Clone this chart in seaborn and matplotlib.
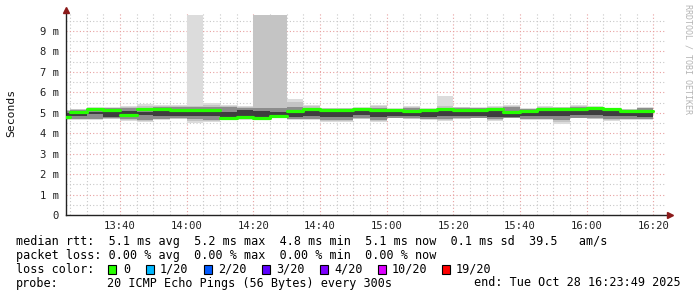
import numpy as np
import pandas as pd
import matplotlib
matplotlib.use("Agg")
import matplotlib.pyplot as plt
import seaborn as sns
from matplotlib.ticker import MultipleLocator, FuncFormatter
from matplotlib.patches import Rectangle

# ---------------- data (ms) ----------------
bin_start = pd.date_range("2025-10-28 13:20", "2025-10-28 16:15", freq="5min")
median = [4.79, 5.02, 5.17, 5.12, 4.89, 5.17, 5.17, 5.14, 5.14, 5.15, 4.73, 4.79,
          4.76, 4.83, 5.09, 5.20, 5.12, 5.12, 5.17, 5.12, 5.14, 5.09, 5.12, 5.17,
          5.14, 5.12, 5.17, 5.05, 5.09, 5.17, 5.17, 5.17, 5.22, 5.19, 5.09, 5.09]
lo0 = [4.65, 4.65, 4.65, 4.70, 4.60, 4.54, 4.65, 4.70, 4.49, 4.55, 4.65, 4.65,
       4.65, 4.73, 4.65, 4.65, 4.57, 4.57, 4.70, 4.57, 4.73, 4.70, 4.65, 4.60,
       4.70, 4.73, 4.60, 4.73, 4.65, 4.65, 4.45, 4.73, 4.70, 4.60, 4.65, 4.65]
hi0 = [5.14, 5.19, 5.28, 5.28, 5.33, 5.41, 5.38, 5.38, 9.80, 5.46, 5.38, 5.33,
       9.80, 9.80, 5.66, 5.38, 5.25, 5.25, 5.28, 5.38, 5.22, 5.33, 5.22, 5.84,
       5.30, 5.28, 5.33, 5.38, 5.22, 5.33, 5.30, 5.38, 5.33, 5.25, 5.19, 5.28]
lo1 = [4.68, 4.68, 4.68, 4.72, 4.64, 4.60, 4.68, 4.72, 4.60, 4.60, 4.68, 4.68,
       4.68, 4.75, 4.68, 4.68, 4.62, 4.62, 4.72, 4.62, 4.75, 4.72, 4.68, 4.64,
       4.72, 4.75, 4.64, 4.75, 4.68, 4.68, 4.55, 4.75, 4.72, 4.64, 4.68, 4.68]
hi1 = [5.12, 5.17, 5.25, 5.25, 5.30, 5.35, 5.33, 5.33, 5.35, 5.40, 5.33, 5.30,
       9.80, 9.80, 5.55, 5.33, 5.23, 5.23, 5.25, 5.33, 5.20, 5.30, 5.20, 5.35,
       5.27, 5.25, 5.30, 5.34, 5.20, 5.30, 5.27, 5.34, 5.30, 5.23, 5.17, 5.25]
lo2 = [4.70, 4.70, 4.72, 4.73, 4.68, 4.65, 4.70, 4.75, 4.70, 4.65, 4.70, 4.70,
       4.70, 4.76, 4.70, 4.72, 4.65, 4.65, 4.75, 4.65, 4.76, 4.75, 4.70, 4.68,
       4.75, 4.76, 4.68, 4.76, 4.70, 4.72, 4.65, 4.76, 4.75, 4.68, 4.70, 4.70]
hi2 = [5.10, 5.14, 5.22, 5.22, 5.25, 5.25, 5.28, 5.28, 5.28, 5.30, 5.28, 5.25,
       5.25, 5.22, 5.28, 5.25, 5.20, 5.20, 5.22, 5.25, 5.17, 5.25, 5.17, 5.25,
       5.22, 5.22, 5.25, 5.30, 5.17, 5.25, 5.22, 5.28, 5.25, 5.20, 5.14, 5.22]
lo3 = [4.80, 4.85, 4.95, 4.78, 4.80, 4.90, 4.82, 4.85, 4.85, 4.85, 4.80, 4.80,
       4.80, 4.80, 4.80, 4.85, 4.80, 4.80, 4.90, 4.80, 4.85, 4.85, 4.78, 4.85,
       4.82, 4.82, 4.78, 4.78, 4.85, 4.85, 4.82, 4.90, 4.88, 4.85, 4.85, 4.78]
hi3 = [5.00, 5.05, 5.05, 5.12, 5.10, 5.05, 5.15, 5.10, 5.20, 5.12, 5.05, 5.12,
       5.10, 5.05, 5.10, 5.15, 5.10, 5.10, 5.15, 5.12, 5.10, 5.12, 5.10, 5.15,
       5.12, 5.10, 5.15, 5.05, 5.10, 5.15, 5.12, 5.15, 5.18, 5.12, 5.08, 5.10]

y_ticks = [0, 1, 2, 3, 4, 5, 6, 7, 8, 9]
y_labels = ["0", "1 m", "2 m", "3 m", "4 m", "5 m", "6 m", "7 m", "8 m", "9 m"]
loss_labels = ["0", "1/20", "2/20", "3/20", "4/20", "10/20", "19/20"]
loss_colors = ["#26ff00", "#00b8ff", "#0059ff", "#5e00ff", "#7e00ff", "#dd00ff", "#ff0000"]
start_time = "13:23:49"
end_time = "16:23:49"

# ---------------- setup ----------------
sns.set_style("white")
plt.rcParams["font.family"] = ["DejaVu Sans Mono", "DejaVu Sans"]

def to_min(ts):
    return ts.hour * 60 + ts.minute + ts.second / 60.0

starts = np.array([to_min(t) for t in bin_start])
edges = np.append(starts, starts[-1] + 5)
x_left = to_min(pd.Timestamp("2025-10-28 " + start_time))
x_right = to_min(pd.Timestamp("2025-10-28 " + end_time))

W, H = 697, 297
fig = plt.figure(figsize=(W / 100, H / 100), dpi=100)
fig.patch.set_facecolor("white")
ax = fig.add_axes([66 / W, 82 / H, 600 / W, 203 / H])
ax.set_facecolor("white")

# smoke
for lo, hi, c in [(lo0, hi0, "#dcdcdc"), (lo1, hi1, "#c4c4c4"),
                  (lo2, hi2, "#8c8c8c"), (lo3, hi3, "#3e3e3e")]:
    ax.fill_between(edges, np.append(lo, lo[-1]), np.append(hi, hi[-1]),
                    step="post", color=c, linewidth=0, zorder=2)

# median segments (per bin)
rows = []
for k in range(len(median)):
    rows.append({"t": edges[k], "v": median[k], "bin": k})
    rows.append({"t": edges[k + 1], "v": median[k], "bin": k})
df = pd.DataFrame(rows)
sns.lineplot(data=df, x="t", y="v", units="bin", estimator=None,
             color="#26ff00", linewidth=2.3, ax=ax, zorder=3)

ax.set_xlim(x_left, x_right)
ax.set_ylim(0, 9.93)
ax.set_xlabel("")
ax.set_ylabel("")

ax.xaxis.set_major_locator(MultipleLocator(20))
ax.xaxis.set_minor_locator(MultipleLocator(5))
ax.xaxis.set_major_formatter(FuncFormatter(lambda v, p: f"{int(v // 60)}:{int(round(v % 60)):02d}"))
ax.set_yticks(y_ticks)
ax.set_yticklabels(y_labels)
ax.yaxis.set_minor_locator(MultipleLocator(0.5))

ax.grid(which="minor", color="#c8c8c8", linestyle=(0, (1, 2)), linewidth=0.8)
ax.grid(which="major", color="#e8a0a0", linestyle=(0, (1, 2)), linewidth=0.8)
ax.set_axisbelow(True)

for s in ["top", "right"]:
    ax.spines[s].set_visible(False)
for s in ["left", "bottom"]:
    ax.spines[s].set_color("#222222")
    ax.spines[s].set_linewidth(1.0)
ax.spines["bottom"].set_bounds(x_left, x_right + 1)

ax.tick_params(axis="both", which="both", direction="in", length=2, width=0.7,
               colors="#555555", labelcolor="#222222", labelsize=7.6)
ax.tick_params(axis="x", which="both", pad=4)
ax.tick_params(axis="y", which="both", pad=5)

# arrows
ax.plot([0], [1.01], marker="^", color="#8b1a1a", markersize=4, transform=ax.transAxes,
        clip_on=False, zorder=5)
ax.plot([1.007], [0], marker=">", color="#8b1a1a", markersize=4, transform=ax.transAxes,
        clip_on=False, zorder=5)

fig.text(11 / W, 1 - 113 / H, "Seconds", rotation=90, ha="center", va="center",
         fontsize=8.2, color="#111111")
fig.text(688 / W, 1 - 4 / H, "RRDTOOL / TOBI OETIKER", rotation=270, ha="center", va="top",
         fontsize=6.0, color="#b4b4b4")

fs = 8.45
tc = "#000000"
fig.text(16 / W, 1 - 241 / H,
         "median rtt:  5.1 ms avg  5.2 ms max  4.8 ms min  5.1 ms now  0.1 ms sd  39.5   am/s",
         ha="left", va="center", fontsize=fs, color=tc)
fig.text(16 / W, 1 - 256 / H,
         "packet loss: 0.00 % avg  0.00 % max  0.00 % min  0.00 % now",
         ha="left", va="center", fontsize=fs, color=tc)
fig.text(16 / W, 1 - 269.5 / H, "loss color:", ha="left", va="center", fontsize=fs, color=tc)
box_x = [108, 146, 203.5, 262, 320, 378, 442]
txt_x = [123, 160, 218, 276, 334, 392, 456]
for bx, tx, lab, col in zip(box_x, txt_x, loss_labels, loss_colors):
    fig.patches.append(Rectangle((bx / W, 1 - 274 / H), 8 / W, 9 / H, transform=fig.transFigure,
                                 facecolor=col, edgecolor="black", linewidth=0.8))
    fig.text(tx / W, 1 - 269.5 / H, lab, ha="left", va="center", fontsize=fs, color=tc)
fig.text(16 / W, 1 - 283 / H, "probe:", ha="left", va="center", fontsize=fs, color=tc)
fig.text(107 / W, 1 - 283 / H, "20 ICMP Echo Pings (56 Bytes) every 300s",
         ha="left", va="center", fontsize=fs, color=tc)
fig.text(681 / W, 1 - 283 / H, "end: Tue Oct 28 16:23:49 2025",
         ha="right", va="center", fontsize=fs, color=tc)

fig.savefig("out.png", dpi=100, facecolor="white")
